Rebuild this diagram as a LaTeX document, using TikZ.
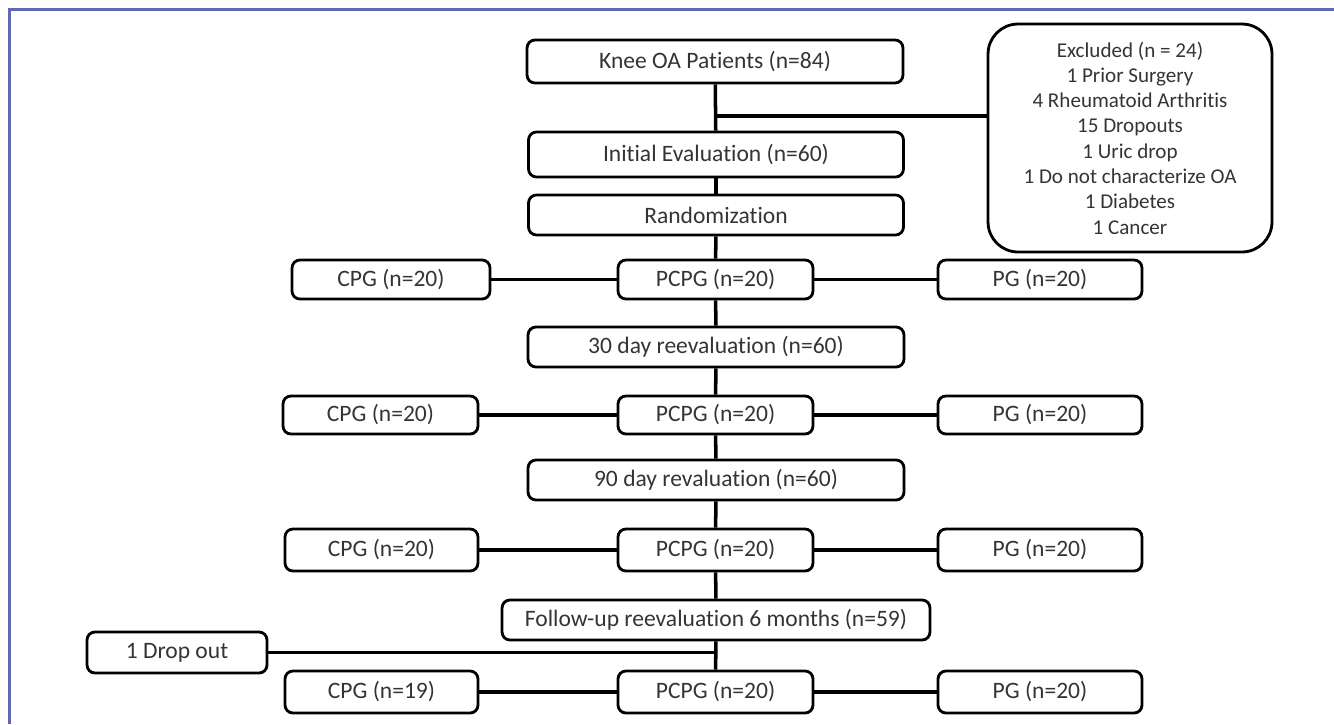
\documentclass[tikz,border=0pt]{standalone}
\usepackage{fontspec}
\setmainfont{Carlito}[Ligatures=CommonOff]
\definecolor{framecol}{RGB}{98,104,178}
\definecolor{txtcol}{RGB}{52,52,52}
\tikzset{
  box/.style={draw, line width=1.6pt, rounded corners=4.5pt, text=txtcol,
    font=\fontsize{13.4}{16}\selectfont, inner sep=0pt, minimum height=0.8cm},
  conn/.style={line width=2pt},
}

\begin{document}
\begin{tikzpicture}[x=0.02cm,y=-0.02cm]
\useasboundingbox (0,0) rectangle (1334,724);
\draw[framecol, line width=1.4pt] (9.5,724) -- (9.5,9.5) -- (1334,9.5);

\node[box, minimum width=7.52cm, minimum height=0.86cm] (knee) at (715,61.5) {Knee OA Patients (n=84)};
\node[box, rounded corners=0.6cm, minimum width=5.68cm, minimum height=4.56cm, align=center,
  font=\fontsize{12}{14.4}\selectfont] (excl) at (1130,138)
  {Excluded (n = 24)\\1 Prior Surgery\\4 Rheumatoid Arthritis\\15 Dropouts\\1 Uric drop\\1 Do not characterize OA\\1 Diabetes\\1 Cancer};
\node[box, minimum width=7.5cm, minimum height=0.9cm] (initial) at (716,154.5) {Initial Evaluation (n=60)};
\node[box, minimum width=7.5cm] (random) at (716,215) {Randomization};

\node[box, minimum width=3.96cm, minimum height=0.78cm] (cpgA) at (391,279.5) {CPG (n=20)};
\node[box, minimum width=3.9cm, minimum height=0.78cm] (pcpgA) at (715.5,279.5) {PCPG (n=20)};
\node[box, minimum width=4.08cm, minimum height=0.78cm] (pgA) at (1040,279.5) {PG (n=20)};

\node[box, minimum width=7.52cm] (dayA) at (716,347) {30 day reevaluation (n=60)};

\node[box, minimum width=3.9cm, minimum height=0.76cm] (cpgB) at (380.5,415) {CPG (n=20)};
\node[box, minimum width=3.9cm, minimum height=0.76cm] (pcpgB) at (715.5,415) {PCPG (n=20)};
\node[box, minimum width=4.08cm, minimum height=0.76cm] (pgB) at (1040,415) {PG (n=20)};

\node[box, minimum width=7.52cm] (dayB) at (716,480) {90 day revaluation (n=60)};

\node[box, minimum width=3.86cm, minimum height=0.84cm] (cpgC) at (381.5,550) {CPG (n=20)};
\node[box, minimum width=3.9cm, minimum height=0.84cm] (pcpgC) at (715.5,550) {PCPG (n=20)};
\node[box, minimum width=4.08cm, minimum height=0.84cm] (pgC) at (1040,550) {PG (n=20)};

\node[box, minimum width=8.56cm] (follow) at (716,620) {Follow-up reevaluation 6 months (n=59)};
\node[box, minimum width=3.6cm, minimum height=0.82cm] (drop) at (177,652.5) {1 Drop out};

\node[box, minimum width=3.86cm, minimum height=0.84cm] (cpgD) at (381.5,692) {CPG (n=19)};
\node[box, minimum width=3.9cm, minimum height=0.84cm] (pcpgD) at (715.5,692) {PCPG (n=20)};
\node[box, minimum width=4.08cm, minimum height=0.84cm] (pgD) at (1040,692) {PG (n=20)};

\coordinate (exclfork) at (715,116);
\coordinate (dropfork) at (715,652.5);

\path[draw,conn] (knee) -- (initial);
\path[draw,conn] (exclfork) -- (exclfork -| excl.west);
\path[draw,conn] (initial) -- (random);
\path[draw,conn] (random) -- (pcpgA);
\path[draw,conn] (pcpgA) -- (dayA);
\path[draw,conn] (dayA) -- (pcpgB);
\path[draw,conn] (pcpgB) -- (dayB);
\path[draw,conn] (dayB) -- (pcpgC);
\path[draw,conn] (pcpgC) -- (follow);
\path[draw,conn] (follow) -- (pcpgD);
\path[draw,conn] (drop) -- (dropfork);

\path[draw,conn] (cpgA) -- (pcpgA);
\path[draw,conn] (pcpgA) -- (pgA);
\path[draw,conn] (cpgB) -- (pcpgB);
\path[draw,conn] (pcpgB) -- (pgB);
\path[draw,conn] (cpgC) -- (pcpgC);
\path[draw,conn] (pcpgC) -- (pgC);
\path[draw,conn] (cpgD) -- (pcpgD);
\path[draw,conn] (pcpgD) -- (pgD);
\end{tikzpicture}
\end{document}
